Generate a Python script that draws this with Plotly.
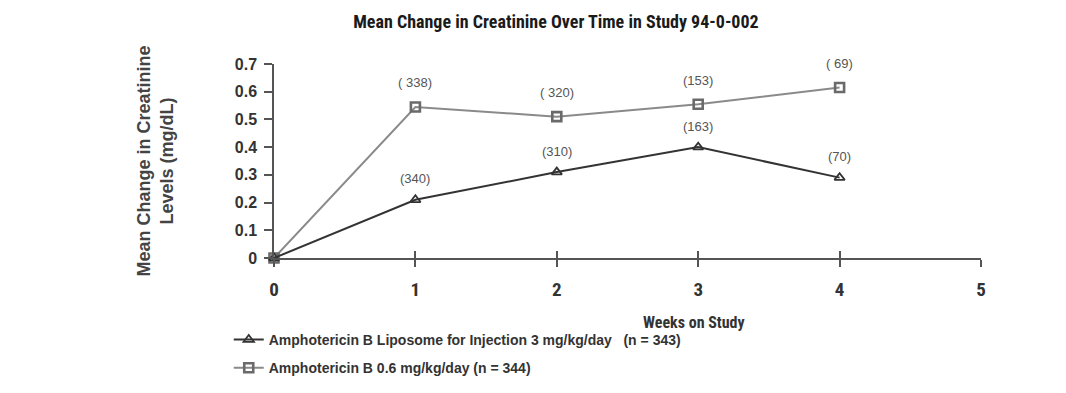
import plotly.graph_objects as go

weeks = [0, 1, 2, 3, 4]
liposome = [0.0, 0.21, 0.31, 0.40, 0.29]
ampho = [0.0, 0.545, 0.51, 0.555, 0.615]
liposome_n = ["", "(340)", "(310)", "(163)", "(70)"]
ampho_n = ["", "( 338)", "( 320)", "(153)", "( 69)"]
x_ticks = [0, 1, 2, 3, 4, 5]
y_ticks = [0, 0.1, 0.2, 0.3, 0.4, 0.5, 0.6, 0.7]
y_ticklabels = ["0", "0.1", "0.2", "0.3", "0.4", "0.5", "0.6", "0.7"]

NARROW = "Roboto Condensed, Noto Sans, sans-serif"
ARIAL = "Liberation Sans, Arial, sans-serif"


def cond(s):
    return f'<span style="font-stretch:condensed;font-weight:bold">{s}</span>'


fig = go.Figure()
fig.add_trace(go.Scatter(
    x=weeks, y=ampho, mode="lines+markers",
    name="<b>Amphotericin B 0.6 mg/kg/day (n = 344)</b>",
    line=dict(color="#8a8a8a", width=2),
    marker=dict(symbol="square-open", size=9, color="#6a6a6a", line=dict(width=2.6)),
    cliponaxis=False, legend="legend2"))
fig.add_trace(go.Scatter(
    x=weeks, y=liposome, mode="lines+markers",
    name="<b>Amphotericin B Liposome for Injection 3 mg/kg/day   (n = 343)</b>",
    line=dict(color="#333333", width=2),
    marker=dict(symbol="triangle-up-open", size=9, color="#333333", line=dict(width=1.8)),
    cliponaxis=False, legend="legend"))

for xv, yv, t in zip(weeks, liposome, liposome_n):
    if t:
        fig.add_annotation(x=xv, y=yv, text=t, showarrow=False, yshift=21,
                           font=dict(family=ARIAL, size=13, color="#555555"))
for xv, yv, t in zip(weeks, ampho, ampho_n):
    if t:
        fig.add_annotation(x=xv, y=yv, text=t, showarrow=False, yshift=24,
                           font=dict(family=ARIAL, size=13, color="#555555"))

fig.add_annotation(xref="paper", yref="paper", x=0.594, y=-0.335, yanchor="middle",
                   text=cond("Weeks on Study"),
                   showarrow=False, font=dict(family=NARROW, size=16, color="#333333"))

fig.update_layout(
    width=1066, height=393,
    margin=dict(l=266, r=93, t=56, b=143),
    paper_bgcolor="white", plot_bgcolor="white",
    title=dict(text=cond("Mean Change in Creatinine Over Time in Study 94-0-002"),
               x=0.514, xanchor="center", y=0.965, yanchor="middle",
               font=dict(family=NARROW, size=18, color="#1a1a1a")),
    xaxis=dict(range=[0, 5], tickvals=x_ticks, ticktext=[cond(v) for v in x_ticks],
               showgrid=False, zeroline=False, showline=True, linecolor="#555555", linewidth=1.5,
               ticks="outside", ticklen=7, tickwidth=1.5, tickcolor="#555555",
               ticklabelstandoff=6,
               tickfont=dict(family=NARROW, size=19, color="#333333")),
    xaxis2=dict(range=[0, 5], overlaying="x", tickvals=x_ticks, showticklabels=False,
                showgrid=False, zeroline=False, showline=False,
                ticks="inside", ticklen=7, tickwidth=1.5, tickcolor="#555555"),
    yaxis=dict(range=[0, 0.7], tickvals=y_ticks, ticktext=[f"<b>{v}</b>" for v in y_ticklabels],
               showgrid=False, zeroline=False, showline=True, linecolor="#555555", linewidth=1.5,
               ticks="outside", ticklen=8, tickwidth=1.5, tickcolor="#555555",
               ticklabelstandoff=4,
               tickfont=dict(family=ARIAL, size=16, color="#333333"),
               title=dict(text="<b>Mean Change in Creatinine<br>Levels (mg/dL)</b>", standoff=56,
                          font=dict(family=ARIAL, size=18, color="#444444"))),
    legend=dict(x=-0.064, y=-0.34, xanchor="left", yanchor="top", bgcolor="rgba(0,0,0,0)",
                font=dict(family=ARIAL, size=14, color="#333333"), itemwidth=30),
    legend2=dict(x=-0.064, y=-0.485, xanchor="left", yanchor="top", bgcolor="rgba(0,0,0,0)",
                 font=dict(family=ARIAL, size=14, color="#333333"), itemwidth=30),
    showlegend=True,
)
fig.add_trace(go.Scatter(x=[0], y=[0], xaxis="x2", mode="markers", marker=dict(opacity=0),
                         showlegend=False, hoverinfo="skip"))

fig.write_html("out.html")
